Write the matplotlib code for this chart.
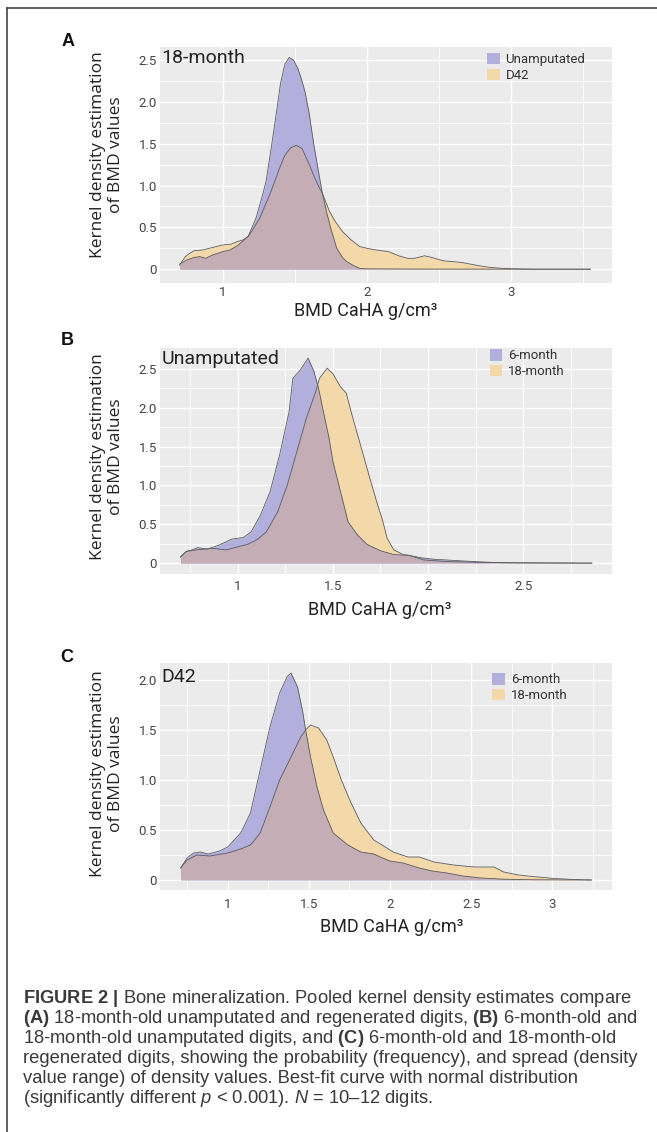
import matplotlib
matplotlib.use("Agg")
import matplotlib.pyplot as plt
from matplotlib.patches import Patch
from matplotlib.lines import Line2D

W, H = 657, 1132

# ---- data ----
# (A) 18-month: unamputated vs D42
a_x_unamp = [0.70, 0.75, 0.80, 0.84, 0.88, 0.93, 1.00, 1.05, 1.10, 1.175, 1.23, 1.27, 1.30, 1.34,
             1.37, 1.40, 1.43, 1.46, 1.49, 1.52, 1.54, 1.57, 1.60, 1.63, 1.66, 1.69, 1.72, 1.75,
             1.79, 1.83, 1.86, 1.90, 1.95, 2.00, 2.30, 3.15, 3.55]
a_y_unamp = [0.06, 0.11, 0.14, 0.15, 0.13, 0.17, 0.21, 0.23, 0.28, 0.39, 0.61, 0.85, 1.05, 1.50,
             1.85, 2.22, 2.45, 2.53, 2.50, 2.40, 2.30, 2.12, 1.85, 1.50, 1.20, 0.91, 0.68, 0.48,
             0.25, 0.14, 0.09, 0.05, 0.01, 0.004, 0.002, 0.0, 0.0]
a_x_d42 = [0.70, 0.74, 0.77, 0.80, 0.86, 0.93, 1.00, 1.06, 1.10, 1.14, 1.175, 1.21, 1.256, 1.29,
           1.325, 1.36, 1.394, 1.43, 1.47, 1.51, 1.55, 1.60, 1.63, 1.67, 1.69, 1.74, 1.78, 1.83,
           1.89, 1.95, 2.00, 2.06, 2.15, 2.22, 2.28, 2.33, 2.40, 2.45, 2.53, 2.60, 2.66, 2.72,
           2.78, 2.86, 2.94, 3.02, 3.15, 3.55]
a_y_d42 = [0.05, 0.15, 0.19, 0.22, 0.23, 0.26, 0.29, 0.30, 0.33, 0.35, 0.39, 0.48, 0.61, 0.75,
           0.89, 1.05, 1.21, 1.36, 1.45, 1.48, 1.44, 1.25, 1.12, 0.97, 0.91, 0.69, 0.57, 0.45,
           0.35, 0.27, 0.25, 0.23, 0.21, 0.16, 0.13, 0.13, 0.16, 0.14, 0.10, 0.09, 0.08, 0.06,
           0.04, 0.02, 0.01, 0.005, 0.0, 0.0]

# (B) unamputated: 6-month vs 18-month
b_x_6m = [0.70, 0.73, 0.76, 0.79, 0.84, 0.90, 0.97, 1.03, 1.07, 1.12, 1.17, 1.22, 1.27, 1.29,
          1.33, 1.37, 1.40, 1.425, 1.45, 1.48, 1.50, 1.54, 1.58, 1.63, 1.68, 1.75, 1.82, 1.90,
          1.96, 2.03, 2.10, 2.24, 2.38, 2.60, 2.86]
b_y_6m = [0.08, 0.15, 0.17, 0.20, 0.18, 0.23, 0.31, 0.33, 0.40, 0.62, 0.92, 1.39, 1.95, 2.38,
          2.49, 2.64, 2.47, 2.25, 1.95, 1.61, 1.31, 0.92, 0.53, 0.36, 0.24, 0.16, 0.11, 0.10,
          0.07, 0.05, 0.04, 0.02, 0.005, 0.002, 0.0]
b_x_18m = [0.70, 0.73, 0.78, 0.82, 0.87, 0.94, 1.00, 1.05, 1.10, 1.15, 1.21, 1.26, 1.31, 1.36,
           1.41, 1.43, 1.47, 1.50, 1.54, 1.57, 1.60, 1.645, 1.69, 1.73, 1.76, 1.785, 1.82, 1.87,
           1.90, 1.98, 2.10, 2.27, 2.50, 2.86]
b_y_18m = [0.08, 0.15, 0.17, 0.18, 0.19, 0.17, 0.21, 0.24, 0.30, 0.40, 0.66, 1.00, 1.43, 1.86,
           2.21, 2.38, 2.51, 2.44, 2.27, 2.19, 1.91, 1.52, 1.13, 0.79, 0.56, 0.32, 0.17, 0.11,
           0.10, 0.04, 0.02, 0.01, 0.003, 0.0]

# (C) D42: 6-month vs 18-month
c_x_6m = [0.71, 0.75, 0.79, 0.83, 0.88, 0.95, 1.00, 1.08, 1.14, 1.20, 1.26, 1.32, 1.365, 1.39,
          1.43, 1.46, 1.48, 1.51, 1.55, 1.59, 1.65, 1.74, 1.82, 1.90, 1.94, 2.00, 2.08, 2.18,
          2.26, 2.35, 2.45, 2.56, 2.70, 2.90, 3.24]
c_y_6m = [0.12, 0.22, 0.27, 0.28, 0.26, 0.29, 0.33, 0.47, 0.67, 1.10, 1.53, 1.87, 2.03, 2.07,
          1.93, 1.70, 1.50, 1.23, 0.93, 0.70, 0.47, 0.35, 0.28, 0.26, 0.23, 0.19, 0.17, 0.12,
          0.09, 0.07, 0.04, 0.02, 0.008, 0.002, 0.0]
c_x_18m = [0.71, 0.75, 0.81, 0.89, 1.00, 1.08, 1.14, 1.20, 1.26, 1.32, 1.39, 1.45, 1.48, 1.51,
           1.56, 1.61, 1.65, 1.70, 1.76, 1.82, 1.90, 1.96, 2.02, 2.11, 2.18, 2.27, 2.39, 2.52,
           2.64, 2.70, 2.79, 2.89, 3.01, 3.13, 3.24]
c_y_18m = [0.12, 0.20, 0.25, 0.24, 0.27, 0.31, 0.35, 0.47, 0.73, 1.00, 1.23, 1.43, 1.50, 1.55,
           1.52, 1.40, 1.23, 1.00, 0.77, 0.57, 0.40, 0.34, 0.28, 0.23, 0.23, 0.18, 0.15, 0.13,
           0.13, 0.08, 0.05, 0.033, 0.015, 0.005, 0.0]

caption_lines = [
    r"$\mathbf{FIGURE\ 2\ |}$ Bone mineralization. Pooled kernel density estimates compare",
    r"$\mathbf{(A)}$ 18-month-old unamputated and regenerated digits, $\mathbf{(B)}$ 6-month-old and",
    r"18-month-old unamputated digits, and $\mathbf{(C)}$ 6-month-old and 18-month-old",
    "regenerated digits, showing the probability (frequency), and spread (density",
    "value range) of density values. Best-fit curve with normal distribution",
    r"(significantly different $\mathit{p}$ < 0.001). $\mathit{N}$ = 10" + "\u2013" + "12 digits.",
]

PURPLE = "#b2afdc"
YELLOW = "#f3d8aa"
OVERLAP = "#c4adb5"
EDGE = "#5c5c5c"
NARROW = ["Liberation Sans Narrow", "Roboto"]

plt.rcParams["mathtext.fontset"] = "custom"
plt.rcParams["mathtext.rm"] = "Liberation Sans"
plt.rcParams["mathtext.bf"] = "Liberation Sans:bold"
plt.rcParams["mathtext.it"] = "Liberation Sans:italic"

fig = plt.figure(figsize=(W / 100, H / 100), dpi=100)


def fx(px):
    return px / W


def fy(py):
    return 1 - py / H


def panel(top, bottom, xlim, ylim, xticks, xlabels, xminor, yticks, ylabels, yminor,
          purple, yellow, names, title, title_y, leg_xy, xpad):
    ax = fig.add_axes([fx(160), fy(bottom), fx(612) - fx(160), fy(top) - fy(bottom)])
    ax.set_facecolor("#ebebeb")
    ax.set_xlim(*xlim)
    ax.set_ylim(*ylim)
    ax.set_xticks(xticks)
    ax.set_xticklabels(xlabels)
    ax.set_xticks(xminor, minor=True)
    ax.set_yticks(yticks)
    ax.set_yticklabels(ylabels)
    ax.set_yticks(yminor, minor=True)
    ax.grid(which="major", color="white", lw=1.0)
    ax.grid(which="minor", color="white", lw=0.6)
    ax.set_axisbelow(True)
    for s in ax.spines.values():
        s.set_visible(False)
    ax.tick_params(which="both", length=0, labelsize=9.5, labelcolor="#444444")
    ax.tick_params(axis="x", pad=xpad)
    ax.tick_params(axis="y", pad=2)
    for lab in ax.get_xticklabels() + ax.get_yticklabels():
        lab.set_family(NARROW)

    ax.fill_between(yellow[0], 0, yellow[1], color=YELLOW, lw=0)
    pp = ax.fill_between(purple[0], 0, purple[1], color=PURPLE, lw=0)
    ov = ax.fill_between(yellow[0], 0, yellow[1], color=OVERLAP, lw=0)
    ov.set_clip_path(pp.get_paths()[0], transform=ax.transData)
    ax.plot(yellow[0], yellow[1], color=EDGE, lw=0.6)
    ax.plot(purple[0], purple[1], color=EDGE, lw=0.6)

    ax.text(0.004, title_y, title, transform=ax.transAxes, va="center", ha="left",
            fontsize=14, family=NARROW, color="#222222")
    handles = [Patch(facecolor=PURPLE, edgecolor="none"), Patch(facecolor=YELLOW, edgecolor="none")]
    ax.legend(handles, names, loc="upper left", bbox_to_anchor=leg_xy, frameon=False,
              handlelength=0.95, handleheight=0.95, handletextpad=0.45, labelspacing=0.2,
              borderaxespad=0, borderpad=0, prop={"family": NARROW, "size": 9.5},
              labelcolor="#333333")
    return ax


panel(47, 283, (0.564, 3.70), (-0.165, 2.655), [1, 2, 3], ["1", "2", "3"], [1.5, 2.5, 3.5],
      [0, 0.5, 1.0, 1.5, 2.0, 2.5], ["0", "0.5", "1.0", "1.5", "2.0", "2.5"],
      [0.25, 0.75, 1.25, 1.75, 2.25],
      (a_x_unamp, a_y_unamp), (a_x_d42, a_y_d42), ["Unamputated", "D42"],
      "18-month", 0.953, (0.7235, 0.975), 2)

panel(348, 574, (0.592, 2.966), (-0.14, 2.77), [1, 1.5, 2, 2.5], ["1", "1.5", "2", "2.5"],
      [0.75, 1.25, 1.75, 2.25, 2.75],
      [0, 0.5, 1.0, 1.5, 2.0, 2.5], ["0", "0.5", "1.0", "1.5", "2.0", "2.5"],
      [0.25, 0.75, 1.25, 1.75, 2.25],
      (b_x_6m, b_y_6m), (b_x_18m, b_y_18m), ["6-month", "18-month"],
      "Unamputated", 0.951, (0.730, 0.995), 4)

panel(663, 890, (0.583, 3.367), (-0.10, 2.17), [1, 1.5, 2, 2.5, 3], ["1", "1.5", "2", "2.5", "3"],
      [0.75, 1.25, 1.75, 2.25, 2.75, 3.25],
      [0, 0.5, 1.0, 1.5, 2.0], ["0", "0.5", "1.0", "1.5", "2.0"],
      [0.25, 0.75, 1.25, 1.75],
      (c_x_6m, c_y_6m), (c_x_18m, c_y_18m), ["6-month", "18-month"],
      "D42", 0.938, (0.735, 0.955), 6)

# axis titles and panel letters
for letter, lx, ly, ycx, ycy, xcx, xcy in [("A", 68, 42, 107, 155, 366, 311),
                                           ("B", 67, 341, 107, 457, 380, 610),
                                           ("C", 67, 658, 107, 774, 392, 927)]:
    fig.text(fx(lx), fy(ly), letter, fontsize=13, fontweight="bold", family="Liberation Sans",
             ha="center", va="center", color="#111111")
    fig.text(fx(ycx), fy(ycy), "Kernel density estimation\nof BMD values", rotation=90,
             ha="center", va="center", fontsize=12.5, family="Open Sans", color="#222222",
             linespacing=1.15)
    fig.text(fx(xcx), fy(xcy), "BMD CaHA g/cm\u00b3", ha="center", va="center",
             fontsize=13, family=NARROW, color="#222222")

# caption
for i, line in enumerate(caption_lines):
    fig.text(fx(23), fy(1003 + 20 * i), line, ha="left", va="baseline", fontsize=13.2,
             family="Liberation Sans", color="#3a3a3a")

# frame
fig.add_artist(Line2D([fx(7), 1], [fy(8), fy(8)], transform=fig.transFigure, color="#444444", lw=1.2))
fig.add_artist(Line2D([fx(7), fx(7)], [0, fy(8)], transform=fig.transFigure, color="#444444", lw=1.2))

fig.savefig("out.png", dpi=100)
